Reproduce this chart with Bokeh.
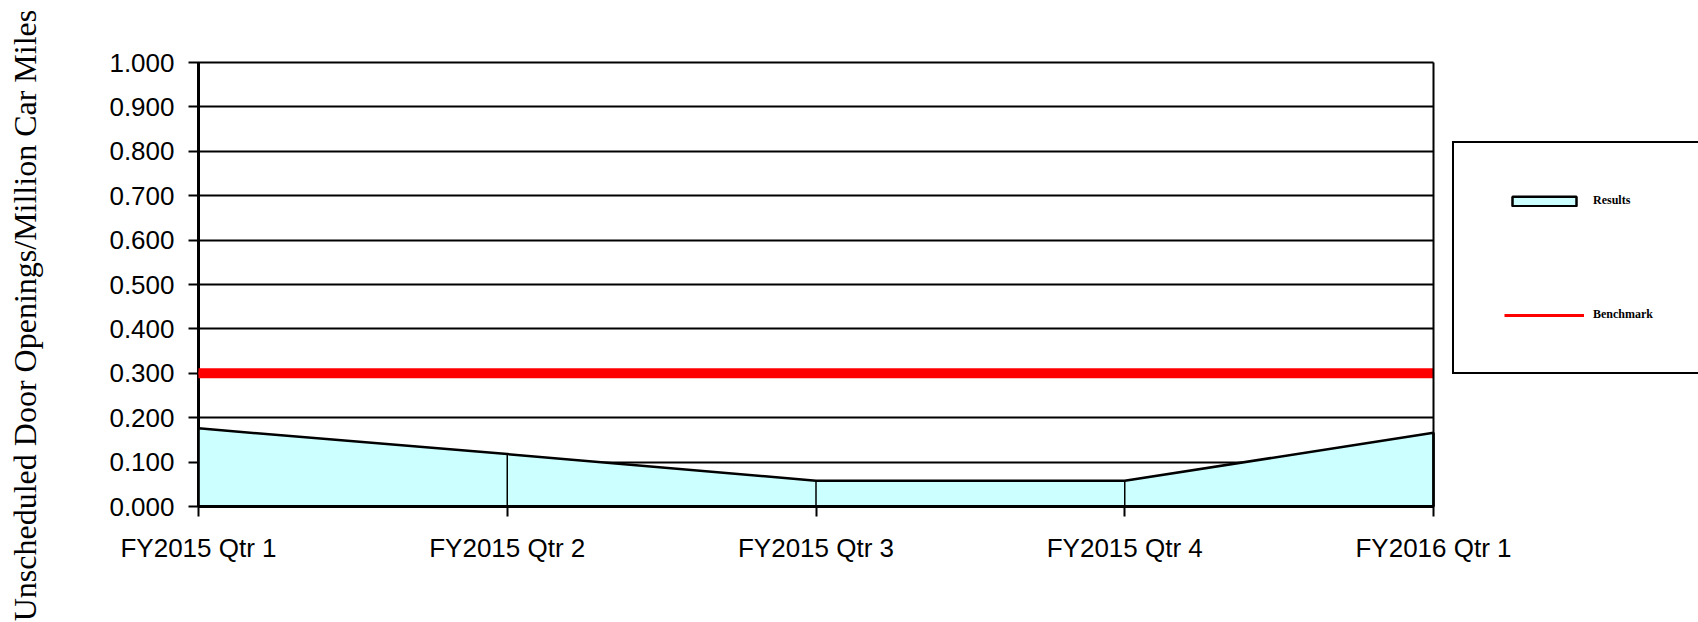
import math
from bokeh.plotting import figure
from bokeh.models import (Range1d, FixedTicker, NumeralTickFormatter, Legend,
                          LegendItem, Label, LinearAxis)
from bokeh.embed import file_html
from bokeh.resources import INLINE

categories = ["FY2015 Qtr 1", "FY2015 Qtr 2", "FY2015 Qtr 3", "FY2015 Qtr 4", "FY2016 Qtr 1"]
results = [0.176, 0.118, 0.058, 0.058, 0.166]
benchmark = [0.300, 0.300, 0.300, 0.300, 0.300]
y_ticks = [0.0, 0.1, 0.2, 0.3, 0.4, 0.5, 0.6, 0.7, 0.8, 0.9, 1.0]
y_title = "Unscheduled Door Openings/Million Car Miles"
series_names = ["Results", "Benchmark"]

xs = list(range(len(categories)))

# page / plot-area geometry in pixels (layout only)
W, H = 1698, 622
left_px, right_px, top_px, bottom_px = 198, 1433, 62, 506
ppx = (right_px - left_px) / (xs[-1] - xs[0])
ppy = (bottom_px - top_px) / (y_ticks[-1] - y_ticks[0])
x_rng = Range1d(xs[0] - left_px / ppx, xs[-1] + (W - right_px) / ppx)
y_rng = Range1d(y_ticks[0] - (H - bottom_px) / ppy, y_ticks[-1] + top_px / ppy)

p = figure(width=W, height=H, output_backend="svg", toolbar_location=None,
           x_range=x_rng, y_range=y_rng,
           min_border_left=0, min_border_right=0, min_border_top=0, min_border_bottom=0)
p.background_fill_color = "white"
p.border_fill_color = "white"
p.outline_line_color = None
p.xgrid.visible = False
p.ygrid.visible = False

# area (patch built from the data + baseline)
px = xs + xs[::-1]
py = results + [0.0] * len(xs)
area = p.patch(px, py, fill_color="#CCFFFF", line_color="black", line_width=2.5)
p.segment(x0=xs, y0=[0.0] * len(xs), x1=xs, y1=results, line_color="black", line_width=1.5)

bench_thin = p.line(xs, benchmark, line_color="#FF0000", line_width=3)
p.line(xs, benchmark, line_color="#FF0000", line_width=10)

# axes
lab_font = "Liberation Sans"
yax = p.yaxis[0]
xax = p.xaxis[0]
yax.fixed_location = xs[0]
xax.fixed_location = y_ticks[0]
yax.bounds = (y_ticks[0], y_ticks[-1])
xax.bounds = (xs[0], xs[-1])
yax.ticker = FixedTicker(ticks=y_ticks)
yax.formatter = NumeralTickFormatter(format="0.000")
xax.ticker = FixedTicker(ticks=xs)
xax.major_label_overrides = {i: c for i, c in enumerate(categories)}
for ax in (xax, yax):
    ax.axis_line_color = "black"
    ax.axis_line_width = 3
    ax.major_tick_line_color = "black"
    ax.major_tick_line_width = 2
    ax.major_tick_out = 10
    ax.major_tick_in = 0
    ax.minor_tick_line_color = None
    ax.major_label_text_font = lab_font
    ax.major_label_text_font_size = "26px"
    ax.major_label_text_color = "black"
yax.major_label_standoff = 14
xax.major_label_standoff = 16
# horizontal gridlines drawn as inward ticks, beneath the area
yax.major_tick_in = int(round(right_px - left_px))
yax.level = "underlay"

# right border of the plot area
rborder = LinearAxis(fixed_location=xs[-1], bounds=(y_ticks[0], y_ticks[-1]),
                     ticker=FixedTicker(ticks=[]), axis_line_color="black",
                     axis_line_width=2, major_tick_line_color=None,
                     minor_tick_line_color=None)
p.add_layout(rborder, "right")

legend = Legend(items=[LegendItem(label=series_names[0], renderers=[area]),
                       LegendItem(label=series_names[1], renderers=[bench_thin])],
                location=(1452, H - 374), orientation="vertical",
                glyph_width=80, glyph_height=12, label_standoff=9,
                label_height=10, label_width=80, spacing=99, padding=50, margin=0,
                border_line_color="black", border_line_width=2, border_line_alpha=1.0,
                background_fill_color="white", background_fill_alpha=1.0,
                label_text_font="Liberation Serif", label_text_font_style="bold",
                label_text_font_size="12px", label_text_color="black")
p.add_layout(legend)

title = Label(x=24, y=H - 315, x_units="screen", y_units="screen", text=y_title,
              angle=math.pi / 2, text_align="center", text_baseline="middle",
              text_font="Liberation Serif", text_font_size="32px", text_color="black")
p.add_layout(title)

open("out.html", "w").write(file_html(p, INLINE))
